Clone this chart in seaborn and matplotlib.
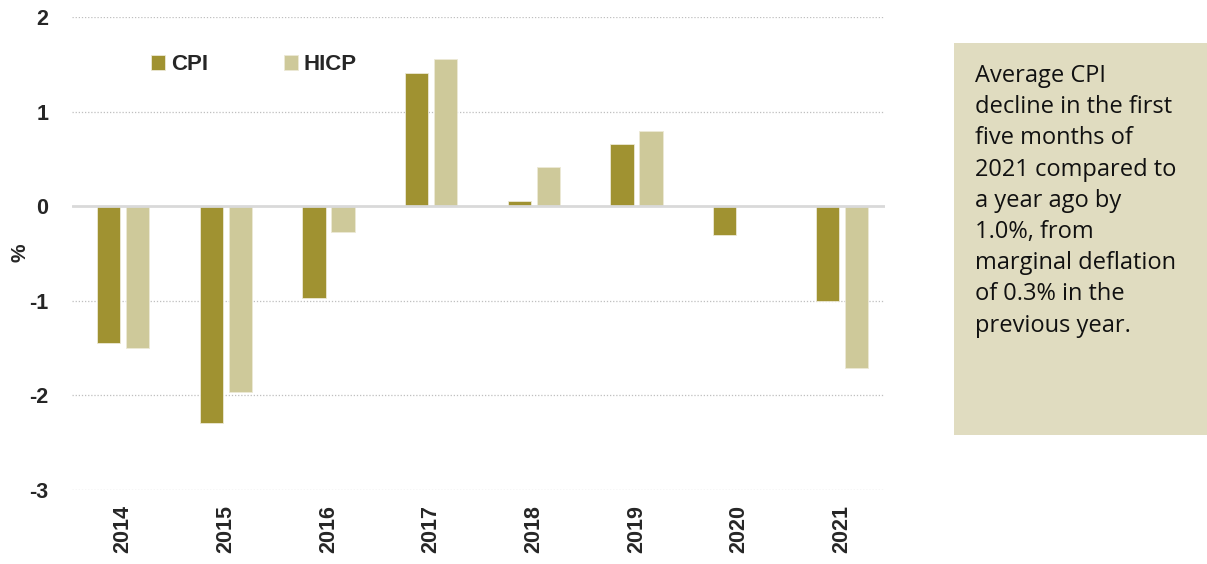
#!/usr/bin/env python3

import pandas as pd
import seaborn as sns
from matplotlib import pyplot as plt
from matplotlib.patches import Rectangle

years = ["2014", "2015", "2016", "2017", "2018", "2019", "2020", "2021"]
cpi = [-1.45, -2.29, -0.97, 1.41, 0.06, 0.66, -0.30, -1.00]
hicp = [-1.50, -1.96, -0.27, 1.56, 0.41, 0.80, 0.0, -1.71]
series_names = ["CPI", "HICP"]
y_ticks = [-3, -2, -1, 0, 1, 2]
note = ("Average CPI\ndecline in the first\nfive months of\n2021 compared to\n"
        "a year ago by\n1.0%, from\nmarginal deflation\nof 0.3% in the\nprevious year.")


def main():
    data = pd.DataFrame({"year": years * 2,
                         "value": cpi + hicp,
                         "series": [series_names[0]] * len(years) + [series_names[1]] * len(years)})
    # 2020 HICP has no bar in the original
    data = data[~((data["year"] == "2020") & (data["series"] == "HICP"))]

    sns.set_theme(style="white")
    plt.rcParams["font.family"] = ["Liberation Sans", "DejaVu Sans"]

    fig = plt.figure(figsize=(12.07, 5.64), dpi=100)
    ax = fig.add_axes([72 / 1207, 74 / 564, 813 / 1207, 473 / 564])

    palette = {"CPI": "#A09231", "HICP": "#CEC99A"}
    sns.barplot(data, x="year", y="value", hue="series", hue_order=series_names, order=years,
                palette=palette, width=0.566, gap=0.2, saturation=1, ax=ax,
                edgecolor="#ECE9D6", linewidth=0.6, legend=True)

    ax.set_ylim(-3, 2)
    ax.set_xlim(-0.497, 7.42)
    ax.set_yticks(y_ticks)
    ax.set_yticklabels([str(t) for t in y_ticks], fontsize=15.5, fontweight="bold")
    ax.tick_params(axis="y", pad=17, length=0)
    ax.tick_params(axis="x", length=0, pad=11)
    for lbl in ax.get_xticklabels():
        lbl.set_rotation(90)
        lbl.set_fontsize(15.5)
        lbl.set_fontweight("bold")
    ax.set_xlabel("")
    ax.set_ylabel("")
    fig.text(20 / 1207, 1 - 253 / 564, "%", rotation=90, ha="center", va="center",
             fontsize=15, fontweight="bold")

    for t in y_ticks:
        if t != 0:
            ax.axhline(t, color="#BFBFBF", linestyle=(0, (1, 1.5)), linewidth=0.9, zorder=0)
    ax.axhline(0, color="#D9D9D9", linewidth=2, zorder=3)
    sns.despine(ax=ax, left=True, bottom=True, top=True, right=True)

    ax.legend(loc="center left", bbox_to_anchor=((151 - 72) / 813, (490 - 65) / 473), ncols=2,
              frameon=False, borderpad=0, borderaxespad=0,
              handlelength=0.63, handleheight=0.63, handletextpad=0.27, columnspacing=3.4,
              prop={"weight": "bold", "size": 16})

    fig.patches.append(Rectangle((954 / 1207, 1 - 435 / 564), 253 / 1207, 392 / 564,
                                 transform=fig.transFigure, facecolor="#E0DCC0",
                                 edgecolor="none", zorder=0))
    fig.text(975 / 1207, 1 - 64 / 564, note, ha="left", va="top", fontsize=17,
             family=["Open Sans", "DejaVu Sans"], color="#111111", linespacing=1.4)

    plt.savefig("out.png", dpi=100)
    plt.close()


if __name__ == '__main__':
    main()
